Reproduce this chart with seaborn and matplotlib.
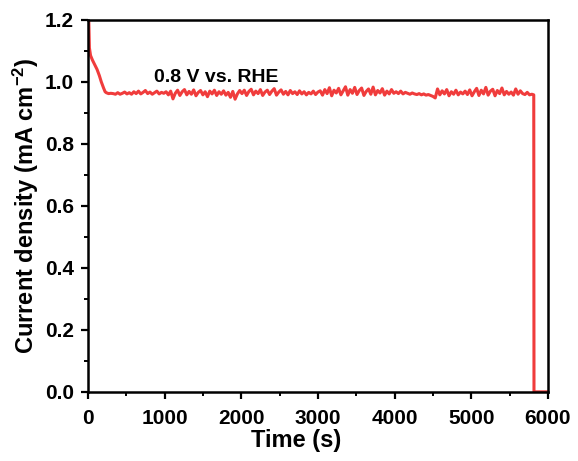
import numpy as np
import pandas as pd
import matplotlib
matplotlib.use("Agg")
import matplotlib.pyplot as plt
import seaborn as sns
from matplotlib.ticker import MultipleLocator

# --- data ---
early_time = [0, 12, 20, 35, 60, 90, 120, 150, 175, 205, 225]
early_current = [1.2, 1.2, 1.11, 1.085, 1.07, 1.055, 1.04, 1.02, 1.0, 0.98, 0.968]

steady_start = 240
steady_step = 30
steady_current = [
    # 240 - 1000 s
    0.965, 0.962, 0.963,
    0.962, 0.960, 0.965, 0.960, 0.963, 0.967, 0.961, 0.965, 0.960, 0.968, 0.962, 0.970,
    0.961, 0.966, 0.972, 0.962, 0.967, 0.960, 0.965, 0.970, 0.961, 0.966, 0.963,
    # 1020 - 1980 s
    0.968, 0.958, 0.970, 0.945, 0.963, 0.973, 0.956, 0.968, 0.975, 0.958, 0.969, 0.960,
    0.974, 0.955, 0.966, 0.972, 0.958, 0.968, 0.952, 0.970, 0.961, 0.973, 0.956, 0.968,
    0.960, 0.971, 0.957, 0.966, 0.950, 0.969, 0.944, 0.961, 0.972,
    # 2010 - 3000 s
    0.962, 0.973, 0.956, 0.969, 0.976, 0.958, 0.970, 0.962, 0.975, 0.956, 0.967, 0.973,
    0.959, 0.970, 0.978, 0.957, 0.967, 0.974, 0.960, 0.969, 0.958, 0.972, 0.962, 0.968,
    0.959, 0.971, 0.961, 0.968, 0.958, 0.966, 0.961, 0.970, 0.959, 0.967,
    # 3030 - 3990 s
    0.971, 0.957, 0.975, 0.962, 0.981, 0.955, 0.973, 0.964, 0.979, 0.958, 0.971, 0.984,
    0.957, 0.975, 0.963, 0.982, 0.959, 0.972, 0.980, 0.956, 0.969, 0.977, 0.960, 0.983,
    0.958, 0.972, 0.964, 0.978, 0.957, 0.970, 0.961, 0.975, 0.963,
    # 4020 - 5010 s
    0.968, 0.962, 0.970, 0.961, 0.966, 0.963, 0.960, 0.964, 0.961, 0.959, 0.962, 0.958,
    0.961, 0.957, 0.959, 0.956, 0.953, 0.948, 0.977, 0.958, 0.971, 0.961, 0.975, 0.955,
    0.968, 0.960, 0.973, 0.958, 0.967, 0.961, 0.970, 0.959, 0.974, 0.955,
    # 5040 - 5790 s
    0.968, 0.979, 0.956, 0.973, 0.961, 0.982, 0.957, 0.970, 0.976, 0.955, 0.972, 0.962,
    0.980, 0.958, 0.969, 0.960, 0.967, 0.957, 0.977, 0.960, 0.971, 0.962, 0.959, 0.966,
    0.958, 0.960,
]

end_time = [5815, 5818, 6000]
end_current = [0.958, 0.0, 0.0]

steady_time = [steady_start + i * steady_step for i in range(len(steady_current))]

time_s = early_time + steady_time + end_time
current = early_current + steady_current + end_current
df = pd.DataFrame({"time": time_s, "current": current})

x_ticks = [0, 1000, 2000, 3000, 4000, 5000, 6000]
y_ticks = [0.0, 0.2, 0.4, 0.6, 0.8, 1.0, 1.2]
annotation = "0.8 V vs. RHE"

# --- style ---
sns.set_style("ticks")
plt.rcParams["font.family"] = ["Liberation Sans", "DejaVu Sans"]
plt.rcParams["font.weight"] = "bold"
plt.rcParams["text.color"] = "black"
plt.rcParams["axes.labelcolor"] = "black"
plt.rcParams["xtick.color"] = "black"
plt.rcParams["ytick.color"] = "black"
plt.rcParams["mathtext.fontset"] = "custom"
plt.rcParams["mathtext.rm"] = "Liberation Sans:bold"
plt.rcParams["mathtext.bf"] = "Liberation Sans:bold"
plt.rcParams["mathtext.default"] = "bf"

fig = plt.figure(figsize=(5.78, 4.61), dpi=100)
ax = fig.add_axes([0.152, 0.150, 0.796, 0.807])

sns.lineplot(data=df, x="time", y="current", ax=ax, color="#f03c3c",
             linewidth=2.2, sort=False, estimator=None)

ax.set_xlim(0, 6000)
ax.set_ylim(0, 1.2)
ax.set_xticks(x_ticks)
ax.set_xticklabels([str(t) for t in x_ticks])
ax.set_yticks(y_ticks)
ax.set_yticklabels([f"{v:.1f}" for v in y_ticks])
ax.xaxis.set_minor_locator(MultipleLocator(500))
ax.yaxis.set_minor_locator(MultipleLocator(0.1))

ax.tick_params(axis="both", which="major", direction="out", length=5, width=1.6,
               labelsize=15, colors="black")
ax.tick_params(axis="y", which="major", pad=5)
ax.tick_params(axis="x", which="major", pad=7)
ax.tick_params(axis="both", which="minor", direction="out", length=3, width=1.4)
ax.tick_params(top=False, right=False, which="both")

for sp in ax.spines.values():
    sp.set_visible(True)
    sp.set_linewidth(1.8)
    sp.set_color("black")

ax.set_xlabel("Time (s)", fontsize=17, fontweight="bold")
ax.xaxis.set_label_coords(0.452, -0.100)
ax.set_ylabel(r"Current density (mA cm$^{-2}$)", fontsize=17, fontweight="bold", labelpad=3)

ax.text(860, 0.985, annotation, fontsize=14, fontweight="bold", ha="left", va="bottom")

fig.savefig("out.png", dpi=100)
